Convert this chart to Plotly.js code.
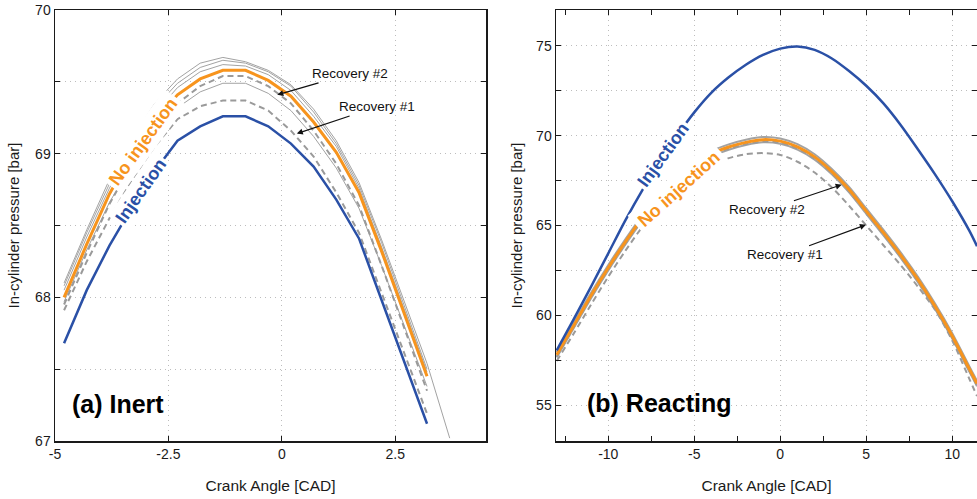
<!DOCTYPE html>
<html>
<head>
<meta charset="utf-8">
<script src="https://cdn.plot.ly/plotly-3.0.1.min.js"></script>
<style>html,body{margin:0;padding:0;background:#fff;}#chart{width:977px;height:499px;}</style>
</head>
<body>
<div id="chart"></div>
<script>
// ---------- (a) Inert : crank angle samples ----------
const xInert = [-4.8,-4.3,-3.8,-3.3,-2.8,-2.3,-1.8,-1.3,-0.8,-0.3,0.2,0.7,1.2,1.7,2.2,2.7,3.2];
const xInertLong = [-4.8,-4.3,-3.8,-3.3,-2.8,-2.3,-1.8,-1.3,-0.8,-0.3,0.2,0.7,1.2,1.7,2.2,2.7,3.2,3.7];
const inertInjection   = [67.68,68.05,68.36,68.63,68.88,69.09,69.19,69.26,69.26,69.19,69.07,68.91,68.68,68.41,67.98,67.55,67.12];
const inertNoInjection = [68.00,68.37,68.72,69.00,69.23,69.41,69.52,69.58,69.58,69.51,69.40,69.22,69.01,68.73,68.32,67.88,67.45];
const inertRecovery1   = [67.91,68.25,68.55,68.82,69.05,69.24,69.33,69.37,69.37,69.30,69.16,68.98,68.73,68.45,68.03,67.61,67.19];
const inertRecovery2   = [67.95,68.31,68.65,68.93,69.16,69.35,69.47,69.54,69.54,69.47,69.35,69.16,68.93,68.64,68.22,67.78,67.35];
const inertCycleA = [68.10,68.47,68.82,69.11,69.35,69.52,69.63,69.67,69.64,69.58,69.48,69.31,69.09,68.80,68.40,67.97,67.54,67.02];
const inertCycleB = [68.08,68.45,68.79,69.08,69.32,69.49,69.60,69.65,69.63,69.57,69.47,69.29,69.07,68.78,68.38,67.94,67.50];
const inertCycleC = [68.05,68.42,68.76,69.05,69.28,69.46,69.57,69.62,69.61,69.55,69.44,69.26,69.05,68.76,68.35,67.91,67.48];
const inertCycleD = [67.97,68.33,68.66,68.93,69.15,69.32,69.43,69.49,69.49,69.42,69.30,69.12,68.90,68.62,68.22,67.80,67.38];

// ---------- (b) Reacting ----------
const xReact = [-13,-12,-11,-10,-9,-8,-7,-6,-5,-4,-3,-2,-1,0,1,2,3,4,5,6,7,8,9,10,11,11.44];
const reactInjection   = [58.05,59.80,61.60,63.45,65.30,67.00,68.55,70.00,71.30,72.40,73.25,73.95,74.50,74.85,74.97,74.78,74.30,73.60,72.78,71.80,70.60,69.25,67.85,66.35,64.70,63.85];
const reactNoInjection = [57.80,59.45,61.10,62.65,64.10,65.45,66.65,67.68,68.45,69.00,69.37,69.63,69.78,69.70,69.38,68.82,68.00,67.00,65.80,64.60,63.35,62.00,60.50,58.85,57.00,56.20];
const reactRecovery1   = [57.45,59.00,60.60,62.15,63.60,64.95,66.10,67.05,67.80,68.35,68.75,68.97,69.03,68.93,68.55,67.95,67.12,66.10,65.00,63.90,62.80,61.60,60.30,58.60,56.45,55.50];
const reactRecovery2   = [57.70,59.35,61.00,62.55,64.00,65.35,66.55,67.58,68.35,68.90,69.27,69.53,69.68,69.60,69.28,68.72,67.90,66.90,65.70,64.50,63.25,61.90,60.40,58.75,56.90,56.10];
const reactCycleUp     = [57.95,59.60,61.25,62.80,64.25,65.60,66.80,67.83,68.60,69.15,69.52,69.78,69.93,69.85,69.53,68.97,68.15,67.15,65.95,64.75,63.50,62.15,60.65,59.00,57.15,56.35];
const reactCycleDown   = [57.65,59.30,60.95,62.50,63.95,65.30,66.50,67.53,68.30,68.85,69.22,69.48,69.63,69.55,69.23,68.67,67.85,66.85,65.65,64.45,63.20,61.85,60.35,58.70,56.85,56.05];

// tick labels
const inertXTicks = [-5,-2.5,0,2.5];
const inertXText  = ['-5','-2.5','0','2.5'];
const inertYTicks = [67,68,69,70];
const inertYText  = ['67','68','69','70'];
const reactXTicks = [-10,-5,0,5,10];
const reactXText  = ['-10','-5','0','5','10'];
const reactYTicks = [55,60,65,70,75];
const reactYText  = ['55','60','65','70','75'];

const BLUE = '#2a50a6', ORANGE = '#f7941d', GREY = '#a3a3a3', DGREY = '#9a9a9a';

function ln(x, y, xa, ya, color, width, dash, shape) {
  return {x: x, y: y, xaxis: xa, yaxis: ya, type: 'scatter', mode: 'lines', hoverinfo: 'skip',
          line: {color: color, width: width, dash: dash || 'solid', shape: shape || 'linear', smoothing: 0.8}};
}

const data = [
  ln(xInertLong, inertCycleA, 'x', 'y', GREY, 1),
  ln(xInert, inertCycleB, 'x', 'y', GREY, 1),
  ln(xInert, inertCycleC, 'x', 'y', GREY, 1),
  ln(xInert, inertCycleD, 'x', 'y', GREY, 1),
  ln(xInert, inertRecovery1, 'x', 'y', DGREY, 2, '6px,4px'),
  ln(xInert, inertRecovery2, 'x', 'y', DGREY, 2, '6px,4px'),
  ln(xInert, inertNoInjection, 'x', 'y', ORANGE, 3),
  ln(xInert, inertInjection, 'x', 'y', BLUE, 2.5),

  ln(xReact, reactCycleUp, 'x2', 'y2', GREY, 2, 'solid', 'spline'),
  ln(xReact, reactCycleDown, 'x2', 'y2', GREY, 2, 'solid', 'spline'),
  ln(xReact, reactRecovery2, 'x2', 'y2', DGREY, 2, '6px,4px', 'spline'),
  ln(xReact, reactRecovery1, 'x2', 'y2', DGREY, 2, '6px,4px', 'spline'),
  ln(xReact, reactNoInjection, 'x2', 'y2', ORANGE, 3, 'solid', 'spline'),
  ln(xReact, reactInjection, 'x2', 'y2', BLUE, 2.5, 'solid', 'spline')
];

const FONT = 'Liberation Sans, Arial, Helvetica, sans-serif';
const grid = {showgrid: true, gridcolor: '#bdbdbd', griddash: '1px,4px', gridwidth: 1};
const axBase = Object.assign({
  showline: true, linecolor: '#1a1a1a', linewidth: 1.5, mirror: 'allticks',
  ticks: 'inside', ticklen: 5, tickwidth: 1, tickcolor: '#1a1a1a', zeroline: false,
  tickfont: {family: FONT, size: 14, color: '#1a1a1a'}, fixedrange: true
}, grid);
function ax(extra) { return Object.assign({}, axBase, extra); }

const yDom = [1 - 441/499, 1 - 10/499];
const minorGrid = {ticks: 'inside', ticklen: 5, tickcolor: '#1a1a1a', showgrid: true, gridcolor: '#bdbdbd', griddash: '1px,4px'};

const layout = {
  width: 977, height: 499,
  margin: {l: 0, r: 0, t: 0, b: 0},
  paper_bgcolor: '#ffffff', plot_bgcolor: '#ffffff',
  showlegend: false,
  font: {family: FONT, size: 14, color: '#1a1a1a'},
  xaxis: ax({domain: [55/977, 486/977], range: [-5, 4.5], tickmode: 'array', tickvals: inertXTicks, ticktext: inertXText,
             anchor: 'y', title: {text: 'Crank Angle [CAD]', standoff: 19, font: {family: FONT, size: 15.5}}}),
  yaxis: ax({domain: yDom, range: [67, 70], tickmode: 'array', tickvals: inertYTicks, ticktext: inertYText, anchor: 'x',
             minor: Object.assign({dtick: 0.5, tick0: 0}, minorGrid),
             title: {text: 'In-cylinder pressure [bar]', standoff: 12, font: {family: FONT, size: 15}}}),
  xaxis2: ax({domain: [556/977, 1], range: [-13.04, 11.44], tickmode: 'array', tickvals: reactXTicks, ticktext: reactXText, anchor: 'y2',
              minor: {dtick: 2.5, tick0: 0, ticks: 'inside', ticklen: 5, tickcolor: '#1a1a1a', showgrid: false},
              title: {text: 'Crank Angle [CAD]', standoff: 19, font: {family: FONT, size: 15.5}}}),
  yaxis2: ax({domain: yDom, range: [53, 77], tickmode: 'array', tickvals: reactYTicks, ticktext: reactYText, anchor: 'x2',
              minor: Object.assign({dtick: 2.5, tick0: 0}, minorGrid),
              title: {text: 'In-cylinder pressure [bar]', standoff: 10, font: {family: FONT, size: 15}}}),
  annotations: [
    {xref: 'x', yref: 'y', x: -3.06, y: 69.08, text: '<b>No injection</b>', showarrow: false, textangle: -54,
     font: {family: FONT, size: 18, color: ORANGE}, bgcolor: '#ffffff', borderpad: 3},
    {xref: 'x', yref: 'y', x: -3.11, y: 68.74, text: '<b>Injection</b>', showarrow: false, textangle: -55,
     font: {family: FONT, size: 18, color: BLUE}, bgcolor: '#ffffff', borderpad: 2},
    {xref: 'x', yref: 'y', x: -0.10, y: 69.41, axref: 'x', ayref: 'y', ax: 1.50, ay: 69.555, text: 'Recovery #2',
     showarrow: true, arrowhead: 2, arrowsize: 1, arrowwidth: 1.2, arrowcolor: '#111', font: {family: FONT, size: 13.5, color: '#111'}},
    {xref: 'x', yref: 'y', x: 0.33, y: 69.14, axref: 'x', ayref: 'y', ax: 2.09, ay: 69.325, text: 'Recovery #1',
     showarrow: true, arrowhead: 2, arrowsize: 1, arrowwidth: 1.2, arrowcolor: '#111', font: {family: FONT, size: 13.5, color: '#111'}},
    {xref: 'x', yref: 'y', x: -4.67, y: 67.26, text: '<b>(a) Inert</b>', showarrow: false, xanchor: 'left',
     font: {family: FONT, size: 25, color: '#000'}},

    {xref: 'x2', yref: 'y2', x: -6.82, y: 68.94, text: '<b>Injection</b>', showarrow: false, textangle: -54,
     font: {family: FONT, size: 18, color: BLUE}, bgcolor: '#ffffff', borderpad: 2},
    {xref: 'x2', yref: 'y2', x: -5.91, y: 67.06, text: '<b>No injection</b>', showarrow: false, textangle: -42,
     font: {family: FONT, size: 18, color: ORANGE}, bgcolor: '#ffffff', borderpad: 4},
    {xref: 'x2', yref: 'y2', x: 3.57, y: 67.27, axref: 'x2', ayref: 'y2', ax: -0.77, ay: 65.88, text: 'Recovery #2',
     showarrow: true, arrowhead: 2, arrowsize: 1, arrowwidth: 1.2, arrowcolor: '#111', font: {family: FONT, size: 13.5, color: '#111'}},
    {xref: 'x2', yref: 'y2', x: 4.98, y: 65.04, axref: 'x2', ayref: 'y2', ax: 0.26, ay: 63.37, text: 'Recovery #1',
     showarrow: true, arrowhead: 2, arrowsize: 1, arrowwidth: 1.2, arrowcolor: '#111', font: {family: FONT, size: 13.5, color: '#111'}},
    {xref: 'x2', yref: 'y2', x: -11.35, y: 55.1, text: '<b>(b) Reacting</b>', showarrow: false, xanchor: 'left',
     font: {family: FONT, size: 25, color: '#000'}}
  ]
};

Plotly.newPlot('chart', data, layout, {staticPlot: true, displayModeBar: false});
</script>
</body>
</html>
